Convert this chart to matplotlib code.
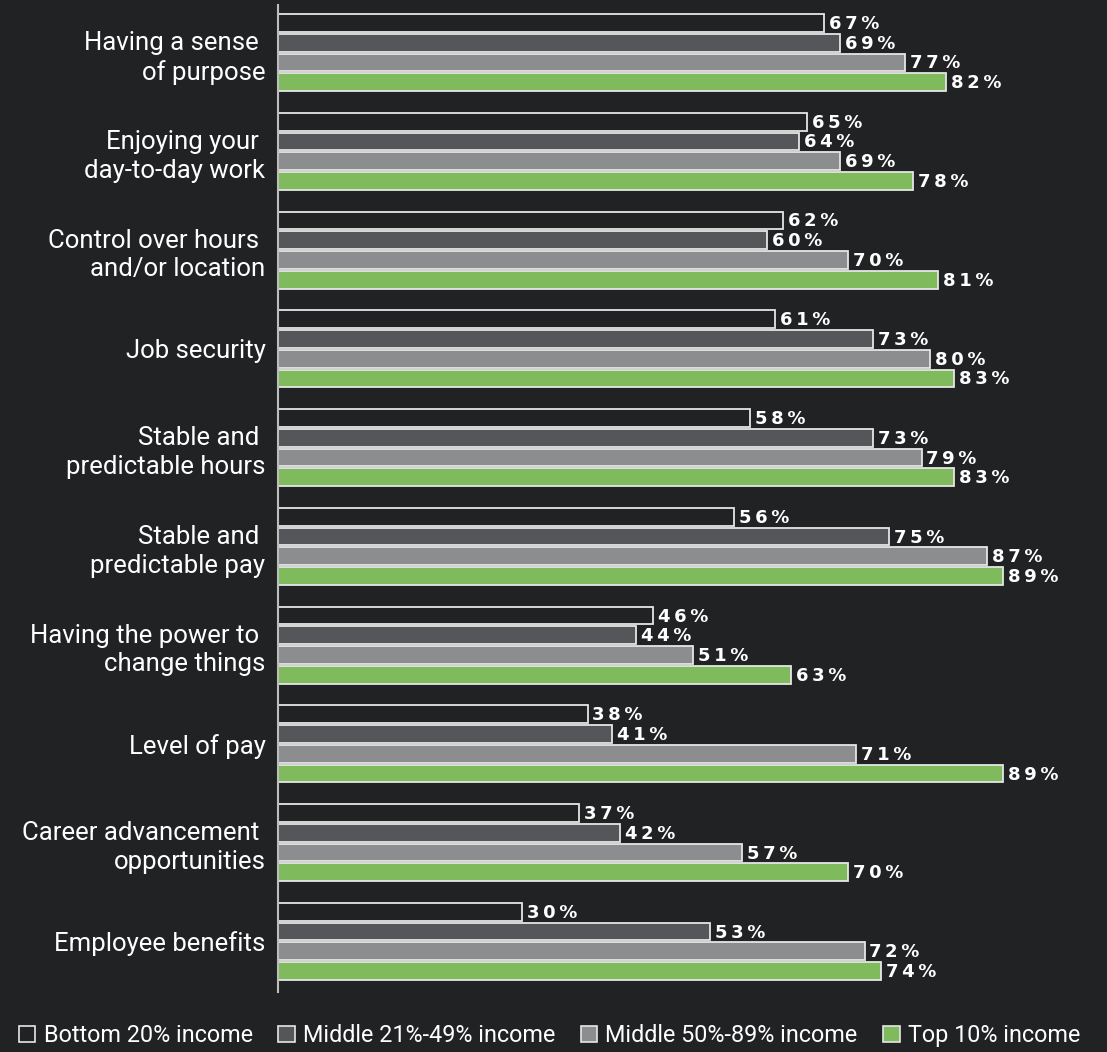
import matplotlib.pyplot as plt
from matplotlib.patches import Patch

# data (percent)
categories = [
    "Having a sense \nof purpose",
    "Enjoying your \nday-to-day work",
    "Control over hours \nand/or location",
    "Job security",
    "Stable and \npredictable hours",
    "Stable and \npredictable pay",
    "Having the power to \nchange things",
    "Level of pay",
    "Career advancement \nopportunities",
    "Employee benefits",
]
bottom20 = [67, 65, 62, 61, 58, 56, 46, 38, 37, 30]
middle21_49 = [69, 64, 60, 73, 73, 75, 44, 41, 42, 53]
middle50_89 = [77, 69, 70, 80, 79, 87, 51, 71, 57, 72]
top10 = [82, 78, 81, 83, 83, 89, 63, 89, 70, 74]

series_names = ["Bottom 20% income", "Middle 21%-49% income",
                "Middle 50%-89% income", "Top 10% income"]
series = [bottom20, middle21_49, middle50_89, top10]
colors = ["#212224", "#55565a", "#8c8d8f", "#7fbb5c"]

BG = "#212224"
W, H = 1107, 1052
fig = plt.figure(figsize=(W / 100, H / 100), dpi=100, facecolor=BG)
# axes placed in pixel terms: left 278, right 1100, top 5, bottom 992
ax = fig.add_axes([278 / W, 1 - 992 / H, (1100 - 278) / W, (992 - 5) / H])
ax.set_facecolor(BG)

group_step = 5
for j, (vals, col) in enumerate(zip(series, colors)):
    ys = [group_step * i + j for i in range(len(vals))]
    ax.barh(ys, vals, height=0.9, color=col, edgecolor="#e6e6e6", linewidth=1.3, zorder=2)
    for y, v in zip(ys, vals):
        lab = "\u2009".join(list(f"{v}%"))
        ax.text(v + 0.6, y + 0.05, lab, color="white", fontsize=13, fontweight="bold",
                family="DejaVu Sans", va="center", ha="left")

ax.set_xlim(0, (1100 - 278) / 8.146)
ax.set_ylim(49.06, -0.91)

centers = [group_step * i + 1.5 for i in range(len(categories))]
ax.set_yticks(centers)
ax.set_yticklabels(categories, fontsize=18.5, family="Roboto", color="white",
                   linespacing=1.25, ha="right")
ax.tick_params(axis="y", length=0, pad=9)
ax.set_xticks([])
for s in ["top", "right", "bottom"]:
    ax.spines[s].set_visible(False)
ax.spines["left"].set_color("#bdbdbd")
ax.spines["left"].set_linewidth(1.5)

handles = [Patch(facecolor=c, edgecolor="#e6e6e6", linewidth=1.2) for c in colors]
fig.legend(handles, series_names, loc="lower left", bbox_to_anchor=(5 / W, -0.009),
           ncol=4, frameon=False, prop={"family": "Roboto", "size": 16.8},
           labelcolor="white", handlelength=0.7, handleheight=0.7,
           handletextpad=0.35, columnspacing=1.1, borderaxespad=0.2)

fig.savefig("out.png", dpi=100, facecolor=BG)
